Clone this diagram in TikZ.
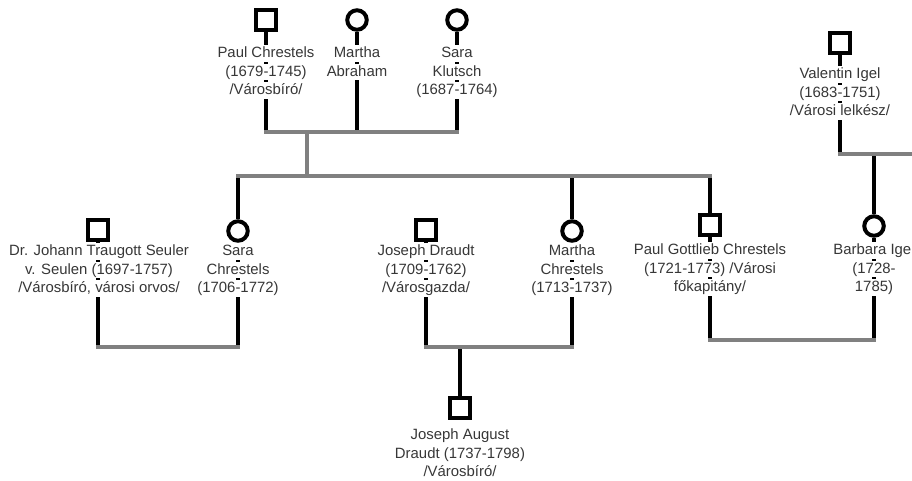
\documentclass[tikz,border=0pt]{standalone}
\usepackage{fontspec}
\setmainfont{Liberation Sans}
\usetikzlibrary{backgrounds}
\definecolor{linegray}{RGB}{128,128,128}
\definecolor{txt}{RGB}{55,55,55}
\newcommand{\wline}[1]{{\setlength{\fboxsep}{0pt}\colorbox{white}{\rule[-4pt]{0pt}{16.3pt}#1}}}
\tikzset{
  sq/.style={draw=black, line width=4pt, minimum size=19.5pt, inner sep=0pt, fill=white},
  ci/.style={circle, draw=black, line width=4pt, minimum size=19.5pt, inner sep=0pt, fill=white},
  lbl/.style={font=\fontsize{14.9}{18.6}\selectfont, text=txt, align=center, inner sep=0pt, anchor=north},
  blk/.style={line width=4pt, draw=black},
  gry/.style={line width=3.5pt, draw=linegray, line cap=rect},
}
\begin{document}
\begin{tikzpicture}[x=1pt,y=-1pt]
\useasboundingbox (0,0) rectangle (912,480);
\clip (0,0) rectangle (912,480);
% labels
\node[lbl] (tpc) at (266,45) {\wline{Paul Chrestels}\\\wline{(1679-1745)}\\\wline{/Városbíró/}};
\node[lbl] (tma) at (357,45) {\wline{Martha}\\\wline{Abraham}};
\node[lbl] (tsk) at (457,45) {\wline{Sara}\\\wline{Klutsch}\\\wline{(1687-1764)}};
\node[lbl] (tvi) at (840,66) {\wline{Valentin Igel}\\\wline{(1683-1751)}\\\wline{/Városi lelkész/}};
\node[lbl] (tjs) at (99,243) {\wline{Dr. Johann Traugott Seuler}\\\wline{v. Seulen (1697-1757)}\\\wline{/Városbíró, városi orvos/}};
\node[lbl] (tsc) at (238,243) {\wline{Sara}\\\wline{Chrestels}\\\wline{(1706-1772)}};
\node[lbl] (tjd) at (426,243) {\wline{Joseph Draudt}\\\wline{(1709-1762)}\\\wline{/Városgazda/}};
\node[lbl] (tmc) at (572,243) {\wline{Martha}\\\wline{Chrestels}\\\wline{(1713-1737)}};
\node[lbl] (tpg) at (710,242) {\wline{Paul Gottlieb Chrestels}\\\wline{(1721-1773) /Városi}\\\wline{főkapitány/}};
\node[lbl] (tbi) at (874,242) {\wline{Barbara Igel}\\\wline{(1728-}\\\wline{1785)}};
\node[lbl] (tja) at (460,428.5) {Joseph August\\Draudt (1737-1798)\\/Városbíró/};
% symbols
\node[sq] (pc) at (266,20) {};
\node[ci] (ma) at (357,20) {};
\node[ci] (sk) at (457,20) {};
\node[sq] (vi) at (840,43) {};
\node[sq] (js) at (98,230) {};
\node[ci] (sc) at (238,231) {};
\node[sq] (jd) at (426,230) {};
\node[ci] (mc) at (572,231) {};
\node[sq] (pg) at (710,225) {};
\node[ci] (bi) at (874,226) {};
\node[sq] (ja) at (460,408) {};
% bar coordinates
\coordinate (b1) at (307,132);
\coordinate (b2) at (307,176);
\coordinate (b3) at (168,347);
\coordinate (b4) at (460,347);
\coordinate (b5) at (792,340);
\coordinate (b6) at (912,154);
\begin{pgfonlayer}{background}
\draw[blk] (pc) -- (pc |- b1);
\draw[blk] (ma) -- (ma |- b1);
\draw[blk] (sk) -- (sk |- b1);
\draw[blk] (sc |- b2) -- (sc);
\draw[blk] (mc |- b2) -- (mc);
\draw[blk] (pg |- b2) -- (pg);
\draw[blk] (js) -- (js |- b3);
\draw[blk] (sc) -- (sc |- b3);
\draw[blk] (jd) -- (jd |- b4);
\draw[blk] (mc) -- (mc |- b4);
\draw[blk] (ja |- b4) -- (ja);
\draw[blk] (pg) -- (pg |- b5);
\draw[blk] (bi) -- (bi |- b5);
\draw[blk] (vi) -- (vi |- b6);
\draw[blk] (bi |- b6) -- (bi);
\draw[gry] (pc |- b1) -- (sk |- b1);
\draw[gry] (b1) -- (b2);
\draw[gry] (sc |- b2) -- (pg |- b2);
\draw[gry] (js |- b3) -- (sc |- b3);
\draw[gry] (jd |- b4) -- (mc |- b4);
\draw[gry] (pg |- b5) -- (bi |- b5);
\draw[gry] (vi |- b6) -- (b6);
\end{pgfonlayer}
\end{tikzpicture}
\end{document}
